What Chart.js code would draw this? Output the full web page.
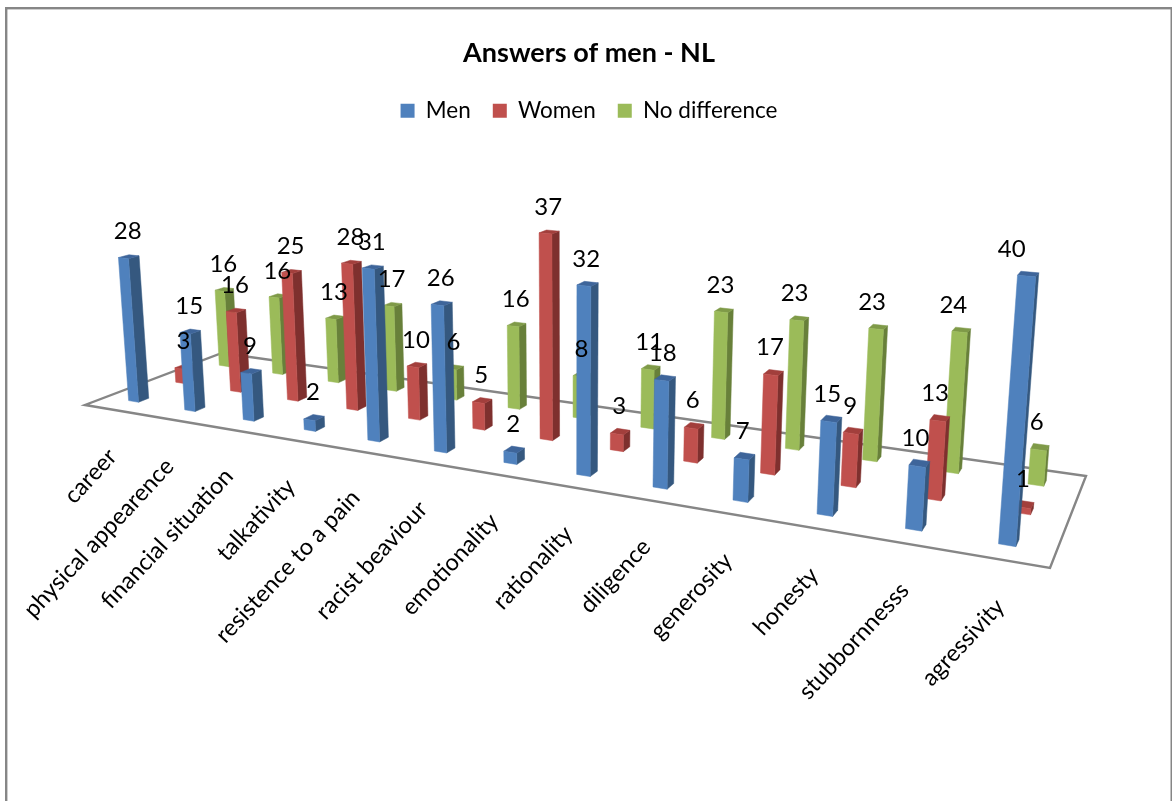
<!DOCTYPE html>
<html><head><meta charset="utf-8">
<style>html,body{margin:0;padding:0;background:#fff}#w{width:1172px;height:801px}</style>
<script src="https://cdn.jsdelivr.net/npm/chart.js@4/dist/chart.umd.min.js"></script>
</head><body><div id="w"><canvas id="c" width="1172" height="801"></canvas></div>
<script>
const categories = ["career","physical appearence","financial situation","talkativity","resistence to a pain","racist beaviour","emotionality","rationality","diligence","generosity","honesty","stubbornnesss","agressivity"];
const men = [28,15,9,2,31,26,2,32,18,7,15,10,40];
const women = [3,16,25,28,10,5,37,3,6,17,9,13,1];
const noDifference = [16,16,13,17,6,16,8,11,23,23,23,24,6];
const seriesNames = ["Men","Women","No difference"];
const front = ["#4F81BD","#C0504D","#9BBB59"];
const side = ["#35587F","#7E302E","#68803A"];
const top_ = ["#3E659A","#A23F3C","#7F9A48"];

// Perspective view of the Excel 3-D floor
const FL=[85,405],FR=[1050,568],BR=[1086,476],BL=[222,353],VP=[570,6600];
const LAMBDA=0.0366, DEPTH=0.07;
function homography(){
  const [x0,y0]=FL,[x1,y1]=FR,[x2,y2]=BR,[x3,y3]=BL;
  const dx1=x1-x2,dx2=x3-x2,sx=x0-x1+x2-x3,dy1=y1-y2,dy2=y3-y2,sy=y0-y1+y2-y3;
  const d=dx1*dy2-dx2*dy1;
  const g=(sx*dy2-dx2*sy)/d,h=(dx1*sy-sx*dy1)/d;
  return {a:x1-x0+g*x1,b:x3-x0+h*x3,c:x0,d:y1-y0+g*y1,e:y3-y0+h*y3,f:y0,g,h};
}
const H=homography();
function project(u,v,z){
  const w=H.g*u+H.h*v+1, X=H.a*u+H.b*v+H.c, Y=H.d*u+H.e*v+H.f;
  const k=LAMBDA*z;
  return [(X-k*VP[0])/(w-k),(Y-k*VP[1])/(w-k)];
}
function poly(ctx,pts,col){
  ctx.beginPath();pts.forEach((p,i)=>i?ctx.lineTo(p[0],p[1]):ctx.moveTo(p[0],p[1]));ctx.closePath();
  ctx.fillStyle=col;ctx.fill();ctx.strokeStyle=col;ctx.lineWidth=0.5;ctx.stroke();
}
const view={
  id:'view',
  beforeDraw(c){
    const x=c.ctx;x.save();x.fillStyle='#868686';
    x.fillRect(5,7,1167,2.4);x.fillRect(5,7,2.4,794);x.fillRect(1170.5,7,1.5,794);x.restore();
  },
  beforeDatasetsDraw(c){
    const x=c.ctx;x.save();x.strokeStyle='#868686';x.lineWidth=2.4;x.beginPath();
    [FL,FR,BR,BL].forEach((p,i)=>i?x.lineTo(p[0],p[1]):x.moveTo(p[0],p[1]));x.closePath();x.stroke();
    const sx=c.scales.x;
    x.fillStyle='#000';x.font='23.5px Lato';x.textAlign='right';x.textBaseline='middle';
    categories.forEach((t,i)=>{
      const u=(sx.getPixelForValue(i)-sx.left)/sx.width;
      const p=project(u,0,0);
      x.save();x.translate(p[0],p[1]+43);x.rotate(-47*Math.PI/180);x.fillText(t,0,0);x.restore();
    });
    x.restore();
  },
  beforeDatasetDraw(c,args){
    const ds=args.index,ctx=c.ctx,sx=c.scales.x,sy=c.scales.y,meta=args.meta;
    const v0=ds/3+0.14;
    meta.data.forEach(el=>{
      const p=el.getProps(['x','y','base','width'],false);
      const uL=(p.x-p.width/2-sx.left)/sx.width,uR=(p.x+p.width/2-sx.left)/sx.width;
      const z=(sy.bottom-p.y)/sy.height;
      const v1=v0+DEPTH;
      const A=project(uL,v0,0),B=project(uR,v0,0),C=project(uR,v0,z),D=project(uL,v0,z);
      const E=project(uR,v1,0),F=project(uR,v1,z),G=project(uL,v1,z);
      poly(ctx,[B,E,F,C],side[ds]);
      poly(ctx,[D,C,F,G],top_[ds]);
      poly(ctx,[A,B,C,D],front[ds]);
    });
    return false;
  },
  afterDatasetsDraw(c){
    const ctx=c.ctx,sx=c.scales.x,sy=c.scales.y;
    ctx.save();ctx.fillStyle='#000';ctx.font='24px Lato';ctx.textAlign='center';ctx.textBaseline='middle';
    [2,1,0].forEach(ds=>{
      const meta=c.getDatasetMeta(ds),v=ds/3+0.14+DEPTH/2;
      meta.data.forEach((el,i)=>{
        const p=el.getProps(['x','y'],false),u=(p.x-sx.left)/sx.width,z=(sy.bottom-p.y)/sy.height;
        const b=project(u,v,0),t=project(u,v,z);
        const dx=t[0]-b[0];
        const lx=(dx<0?t[0]:t[0]-dx*0.8)-1;
        ctx.fillText(String(c.data.datasets[ds].data[i]),lx,t[1]-25);
      });
    });
    ctx.restore();
  }
};
new Chart(document.getElementById('c'),{
  type:'bar',
  data:{labels:categories,datasets:[men,women,noDifference].map((d,i)=>({label:seriesNames[i],data:d,backgroundColor:front[i],borderWidth:0}))},
  plugins:[view],
  options:{
    responsive:false,animation:false,
    layout:{padding:{top:32,left:6}},
    categoryPercentage:0.18,barPercentage:1,
    scales:{x:{stacked:true,display:false},y:{display:false,min:0,max:45}},
    plugins:{
      tooltip:{enabled:false},
      title:{display:true,text:"Answers of men - NL",color:'#000',font:{family:'Lato',size:27,weight:'bold'},padding:{top:5,bottom:8}},
      legend:{display:true,position:'top',labels:{boxWidth:14,boxHeight:14,padding:22,color:'#000',font:{family:'Lato',size:22.5}}}
    }
  }
});
</script></body></html>
